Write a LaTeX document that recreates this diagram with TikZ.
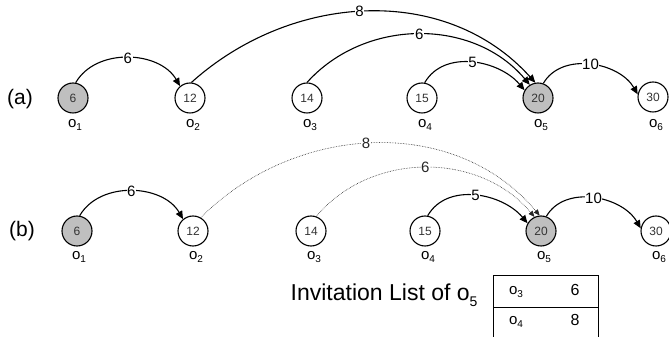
\documentclass[tikz,border=0pt]{standalone}
\usepackage{fontspec}
\setmainfont{Liberation Sans}
\usetikzlibrary{arrows.meta}

% letter with a lowered index, e.g. o_1
\newcommand\osub[3][10]{#2\raisebox{-0.45ex}{\fontsize{#1}{#1}\selectfont #3}}

\begin{document}
\begin{tikzpicture}[x=1pt,y=1pt,
  obj/.style={circle, draw, line width=1.1pt, minimum size=30pt, inner sep=0pt,
              font=\fontsize{12}{12}\selectfont, text=black!80},
  hot/.style={obj, fill=black!25},
  lab/.style={font=\fontsize{15}{15}\selectfont},
  tag/.style={font=\fontsize{21}{21}\selectfont},
  link/.style={line width=1.1pt, -{Triangle[length=8pt,width=7pt]}},
  ghost/.style={line width=0.6pt, densely dotted, black!85,
                -{Triangle[length=6pt,width=5pt]}},
  wt/.style={fill=white, inner sep=0.6pt, font=\fontsize{15}{15}\selectfont},
]
\useasboundingbox (0,0) rectangle (669,337);

% ---------- row (a) ----------
\node[tag] (ta) at (20,238) {(a)};
\node[hot] (a1) at (73,239) {6};
\node[obj] (a2) at (190,239) {12};
\node[obj] (a3) at (307,239) {14};
\node[obj] (a4) at (422,239) {15};
\node[hot] (a5) at (538,239) {20};
\node[obj] (a6) at (653,240) {30};
\node[lab] (la1) at (75,212) {\osub{o}{1}};
\node[lab] (la2) at (193,212) {\osub{o}{2}};
\node[lab] (la3) at (310,212) {\osub{o}{3}};
\node[lab] (la4) at (425,212) {\osub{o}{4}};
\node[lab] (la5) at (541,212) {\osub{o}{5}};
\node[lab] (la6) at (656,212) {\osub{o}{6}};

\draw[link] (a1.80) to[out=60,in=120] node[wt]{6} (a2.130);
\draw[link] (a2.85) to[out=42,in=132] node[wt,pos=0.48]{8} (a5.100);
\draw[link] (a3.90) to[out=48,in=130] node[wt,pos=0.5]{6} (a5.122);
\draw[link] (a4.80) to[out=60,in=130] node[wt]{5} (a5.150);
\draw[link] (a5.70) to[out=60,in=120] node[wt]{10} (a6.170);

% ---------- row (b) ----------
\node[tag] (tb) at (22,106) {(b)};
\node[hot] (b1) at (77,106) {6};
\node[obj] (b2) at (193,106) {12};
\node[obj] (b3) at (311,106) {14};
\node[obj] (b4) at (425,106) {15};
\node[hot] (b5) at (541,106) {20};
\node[obj] (b6) at (656,106) {30};
\node[lab] (lb1) at (79,80) {\osub{o}{1}};
\node[lab] (lb2) at (196,80) {\osub{o}{2}};
\node[lab] (lb3) at (314,80) {\osub{o}{3}};
\node[lab] (lb4) at (428,80) {\osub{o}{4}};
\node[lab] (lb5) at (544,80) {\osub{o}{5}};
\node[lab] (lb6) at (659,80) {\osub{o}{6}};

\draw[link] (b1.80) to[out=60,in=120] node[wt]{6} (b2.130);
\draw[ghost] (b2.60) to[out=45,in=130] node[wt,pos=0.48]{8} (b5.95);
\draw[ghost] (b3.70) to[out=50,in=130] node[wt,pos=0.5]{6} (b5.115);
\draw[link] (b4.80) to[out=60,in=130] node[wt]{5} (b5.150);
\draw[link] (b5.70) to[out=60,in=120] node[wt]{10} (b6.170);

% ---------- invitation list ----------
\node[font=\fontsize{23}{23}\selectfont, anchor=base east] (inv) at (481,36)
  {Invitation List of \osub[14]{o}{5}};
\coordinate (t1) at (493,62);
\coordinate (t2) at (598,62);
\coordinate (t3) at (493,-2);
\coordinate (t4) at (598,-2);
\draw[line width=0.8pt] (t3) -- (t1) -- (t2) -- (t4);
\draw[line width=0.8pt] (493,30) -- (598,30);
\node[lab] (c1) at (516,45) {\osub{o}{3}};
\node[font=\fontsize{16}{16}\selectfont] (v1) at (575,47) {6};
\node[lab] (c2) at (516,15) {\osub{o}{4}};
\node[font=\fontsize{16}{16}\selectfont] (v2) at (575,17) {8};
\end{tikzpicture}
\end{document}
